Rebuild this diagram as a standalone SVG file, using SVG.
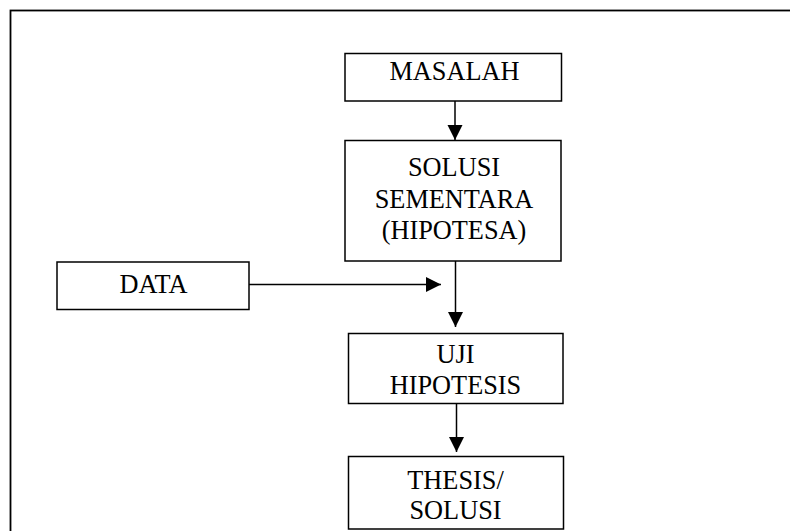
<svg xmlns="http://www.w3.org/2000/svg" width="790" height="531" viewBox="0 0 790 531">
<defs>
<style>
.box{fill:#fff;stroke:#000;stroke-width:1.5}
.t{font-family:"Liberation Serif","Times New Roman",serif;font-size:26.3px;fill:#000;text-anchor:middle}
.c{stroke:#000;stroke-width:1.5;fill:none}
</style>
<marker id="ah" markerUnits="userSpaceOnUse" markerWidth="16" markerHeight="16" refX="15" refY="7.5" orient="auto">
<path d="M0,0 L15,7.5 L0,15 Z" fill="#000"/>
</marker>
</defs>
<rect width="790" height="531" fill="#fff"/>
<rect x="10.5" y="10.5" width="820" height="560" fill="none" stroke="#000" stroke-width="1.8"/>
<g id="connectors">
<line class="c" x1="455" y1="101" x2="455" y2="140" marker-end="url(#ah)"/>
<line class="c" x1="249" y1="284.5" x2="441" y2="284.5" marker-end="url(#ah)"/>
<line class="c" x1="455.5" y1="261" x2="455.5" y2="327" marker-end="url(#ah)"/>
<line class="c" x1="456.5" y1="403" x2="456.5" y2="452" marker-end="url(#ah)"/>
</g>
<g id="masalah">
<rect class="box" x="345" y="53.5" width="216.5" height="47.5"/>
<text class="t" x="454.5" y="80">MASALAH</text>
</g>
<g id="solusi-sementara">
<rect class="box" x="345" y="140.5" width="216" height="120.5"/>
<text class="t" x="454" y="176">SOLUSI</text>
<text class="t" x="454" y="208">SEMENTARA</text>
<text class="t" x="454" y="238.5">(HIPOTESA)</text>
</g>
<g id="data">
<rect class="box" x="57" y="262" width="192" height="47.5"/>
<text class="t" x="153.5" y="293">DATA</text>
</g>
<g id="uji-hipotesis">
<rect class="box" x="348.5" y="333.5" width="214.5" height="70"/>
<text class="t" x="455.5" y="363">UJI</text>
<text class="t" x="455.5" y="393.5">HIPOTESIS</text>
</g>
<g id="thesis-solusi">
<rect class="box" x="348.5" y="456.5" width="215" height="72.5"/>
<text class="t" x="455.5" y="488.5">THESIS/</text>
<text class="t" x="455.5" y="518.5">SOLUSI</text>
</g>
</svg>
